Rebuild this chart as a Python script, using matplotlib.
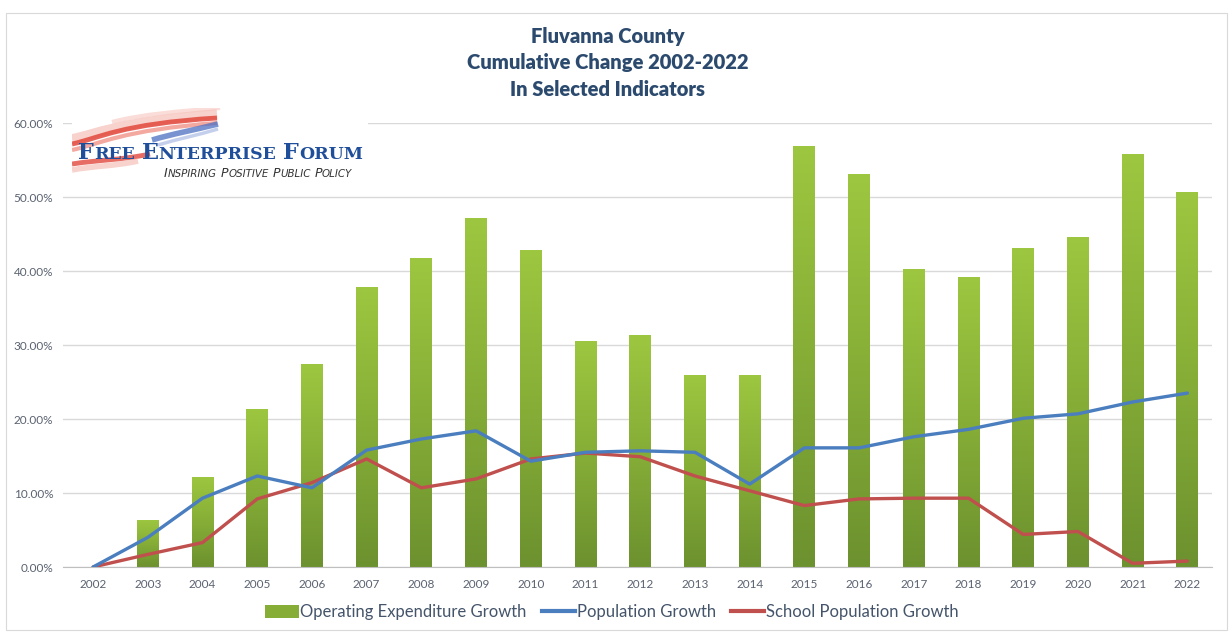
import numpy as np
import matplotlib
matplotlib.use("Agg")
import matplotlib.pyplot as plt
from matplotlib.colors import LinearSegmentedColormap
from matplotlib.lines import Line2D
from matplotlib.patches import Patch, Rectangle, PathPatch
from matplotlib.path import Path
from matplotlib.ticker import FuncFormatter, MultipleLocator

years = [str(y) for y in range(2002, 2023)]
expenditure_growth = [0.0, 6.4, 12.2, 21.4, 27.4, 37.9, 41.7, 47.1, 42.8, 30.5, 31.3,
                      26.0, 26.0, 56.9, 53.1, 40.3, 39.2, 43.1, 44.6, 55.8, 50.7]
population_growth = [0.0, 4.0, 9.3, 12.3, 10.7, 15.8, 17.3, 18.4, 14.3, 15.5, 15.7,
                     15.5, 11.2, 16.1, 16.1, 17.6, 18.6, 20.1, 20.7, 22.3, 23.5]
school_growth = [0.0, 1.7, 3.3, 9.2, 11.4, 14.6, 10.7, 11.9, 14.6, 15.4, 14.9,
                 12.3, 10.3, 8.3, 9.2, 9.3, 9.3, 4.4, 4.8, 0.5, 0.8]

W, H = 1231, 637
plt.rcParams['font.family'] = ['Lato', 'DejaVu Sans']

fig = plt.figure(figsize=(W / 100, H / 100), dpi=100)
fig.patch.set_facecolor('white')

# thin chart-area border
fig.add_artist(Rectangle((6 / W, 1 - 630 / H), 1221 / W, 617 / H, transform=fig.transFigure,
                         fill=False, edgecolor='#D9D9D9', linewidth=0.8))

ax = fig.add_axes([63 / W, 1 - 567 / H, (1212 - 63) / W, (567 - 123) / H])
x = np.arange(len(years))

bars = ax.bar(x, expenditure_growth, width=0.4, color='#86AE37', zorder=2)

# vertical gradient on each bar, light at the top, olive at the base
green = LinearSegmentedColormap.from_list('bar_green', ['#6C912F', '#86AE37', '#9DC740'])
grad = np.linspace(0, 1, 256).reshape(-1, 1)
for rect in bars:
    bx, bw, bh = rect.get_x(), rect.get_width(), rect.get_height()
    if bh <= 0:
        continue
    im = ax.imshow(grad, extent=[bx, bx + bw, 0, bh], origin='lower', cmap=green,
                   aspect='auto', zorder=2.1)
    im.set_clip_path(rect)

ax.plot(x, population_growth, color='#4A7EBF', linewidth=2.4, zorder=4,
        solid_capstyle='round', solid_joinstyle='round')
ax.plot(x, school_growth, color='#C0504D', linewidth=2.4, zorder=3,
        solid_capstyle='round', solid_joinstyle='round')

ax.set_xlim(-0.55, 20.45)
ax.set_ylim(0, 60)
ax.set_aspect('auto')
ax.yaxis.set_major_locator(MultipleLocator(10))
ax.yaxis.set_major_formatter(FuncFormatter(lambda v, _: f'{v:.2f}%'))
ax.set_xticks(x)
ax.set_xticklabels(years)
ax.grid(axis='y', color='#D9D9D9', linewidth=1.0, zorder=0)
ax.set_axisbelow(True)
for side in ('top', 'right', 'left'):
    ax.spines[side].set_visible(False)
ax.spines['bottom'].set_color('#BFBFBF')
ax.tick_params(axis='both', length=0, labelsize=8.5, labelcolor='#5A6270')
ax.tick_params(axis='x', pad=9)
ax.tick_params(axis='y', pad=7)

# title
fig.text(608 / W, 1 - 63 / H, 'Fluvanna County\nCumulative Change 2002-2022\nIn Selected Indicators',
         ha='center', va='center', fontsize=14.5, fontweight='heavy', color='#2B4A6E',
         linespacing=1.45)

# legend
handles = [Patch(facecolor='#86AE37', edgecolor='none'),
           Line2D([], [], color='#4A7EBF', linewidth=3),
           Line2D([], [], color='#C0504D', linewidth=3)]
labels = ['Operating Expenditure Growth', 'Population Growth', 'School Population Growth']
fig.legend(handles, labels, loc='center', bbox_to_anchor=(612 / W, 1 - 612 / H), ncol=3,
           frameon=False, fontsize=12, handlelength=2.0, handleheight=0.8,
           handletextpad=0.1, columnspacing=0.9, labelcolor='#44546A')

# organisation logo, drawn in its own pixel-space axes
lg = fig.add_axes([72 / W, 1 - 185 / H, 296 / W, 77 / H], zorder=5)
lg.set_xlim(0, 296)
lg.set_ylim(77, 0)
lg.set_xticks([])
lg.set_yticks([])
for s in lg.spines.values():
    s.set_visible(False)
lg.set_facecolor('white')


def band(p0, c1, c2, p3, color, lw, alpha):
    path = Path([p0, c1, c2, p3], [Path.MOVETO, Path.CURVE4, Path.CURVE4, Path.CURVE4])
    lg.add_patch(PathPatch(path, fill=False, edgecolor=color, linewidth=lw, alpha=alpha,
                           capstyle='butt'))


# waving flag stripes behind the lettering
band((0, 31), (25, 26), (45, 14), (145, 6), '#F4B4AA', 7, 0.6)
band((0, 36), (28, 30), (48, 16), (145, 10), '#E2473C', 3.5, 0.85)
band((0, 42), (28, 36), (50, 22), (145, 15), '#EE8578', 3, 0.7)
band((40, 14), (70, 6), (110, 3), (148, 0), '#F7C6BE', 3, 0.6)
band((80, 32), (100, 26), (122, 22), (146, 16), '#4C6FC2', 4, 0.75)
band((86, 37), (106, 31), (126, 27), (146, 21), '#9EB0E0', 2.5, 0.6)
band((0, 56), (25, 52), (50, 52), (78, 46), '#E2473C', 3.5, 0.8)
band((0, 62), (20, 58), (45, 58), (66, 53), '#F4B4AA', 4, 0.6)

renderer = fig.canvas.get_renderer()


def small_caps(x0, y0, words, big, small, space, **kw):
    xp = x0
    for w in words:
        for part, size in ((w[0], big), (w[1:], small)):
            t = lg.text(xp, y0, part, fontsize=size, ha='left', va='baseline', zorder=3, **kw)
            xp += t.get_window_extent(renderer).width
        xp += space
    return xp


small_caps(6, 51, ['FREE', 'ENTERPRISE', 'FORUM'], 16, 12.5, 7,
           family='DejaVu Serif', fontweight='bold', color='#1F4E9A')
small_caps(92, 69, ['INSPIRING', 'POSITIVE', 'PUBLIC', 'POLICY'], 9.0, 7.4, 4,
           family='DejaVu Sans', style='italic', color='#333333')

fig.savefig('out.png', dpi=100)
